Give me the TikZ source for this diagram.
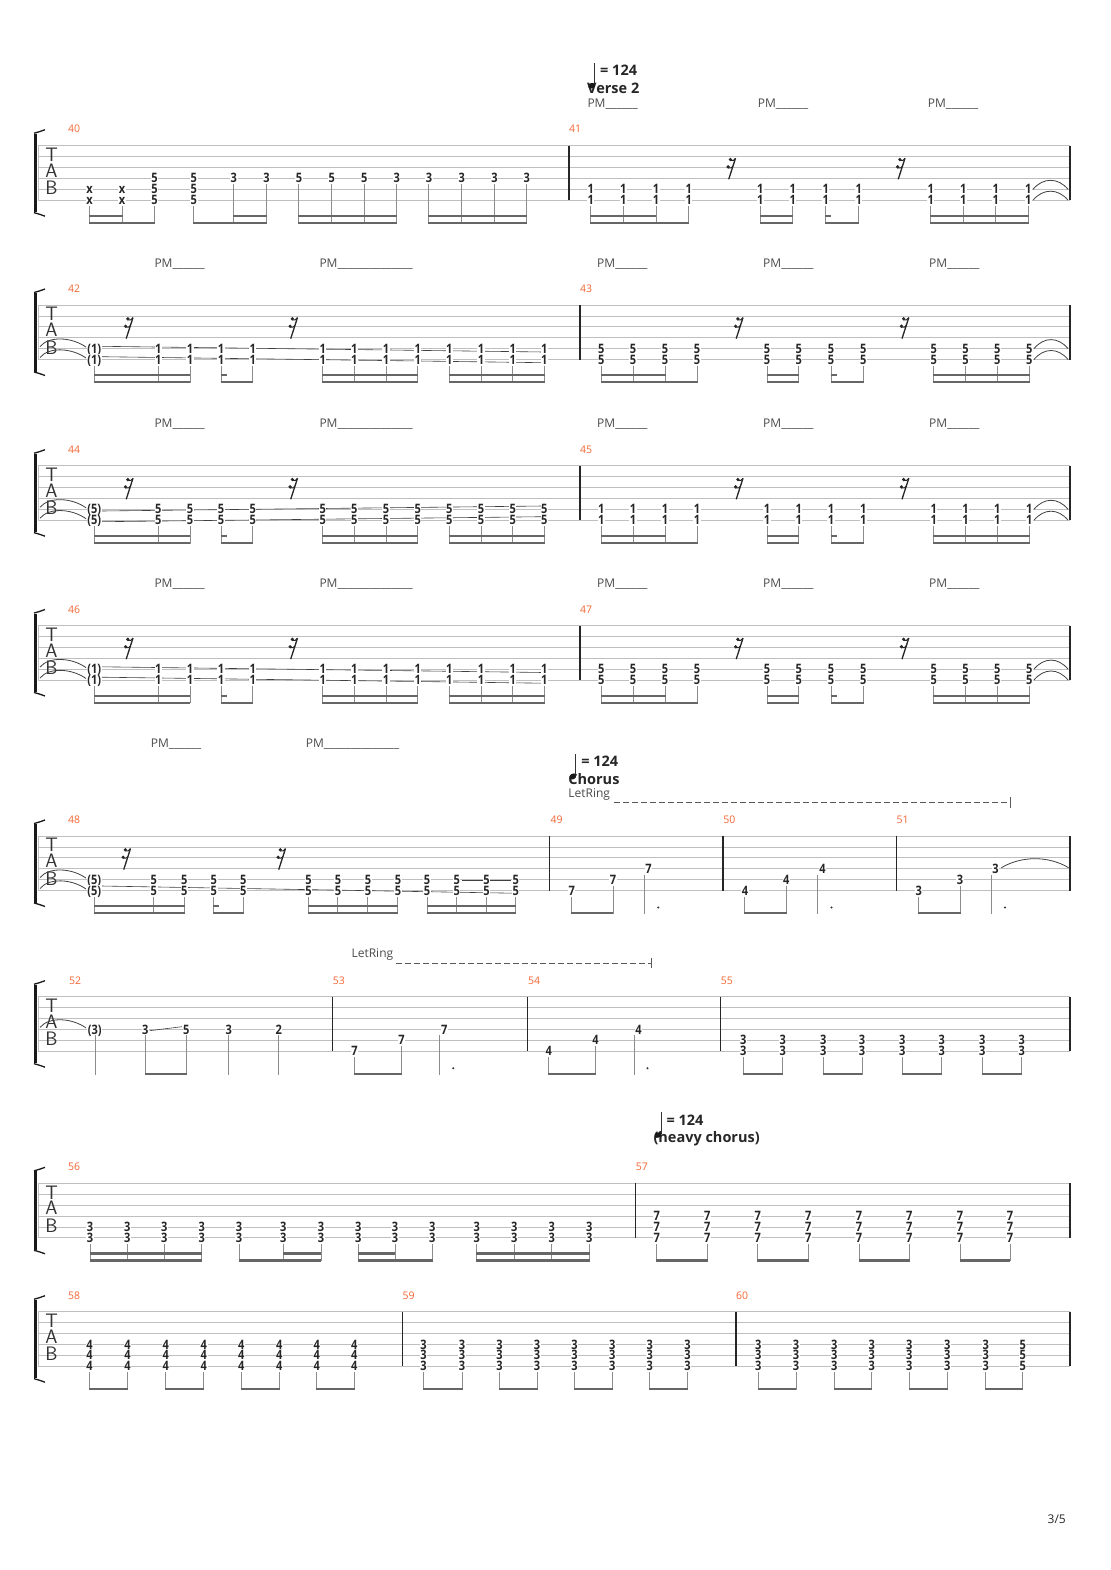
\documentclass[tikz,border=0pt]{standalone}
\usepackage{fontspec}
\setmainfont{Open Sans}
\newfontfamily\fretfont[FakeStretch=0.85]{Open Sans}
\definecolor{mnumc}{RGB}{244,102,52}

\tikzset{
  strline/.style={draw=black!25, line width=0.8pt},
  barln/.style={draw=black!85, line width=1.1pt},
  brk/.style={draw=black!90, line width=1.3pt},
  stemln/.style={draw=black!45, line width=0.9pt},
  beamln/.style={draw=black!60, line width=2.4pt},
  sliden/.style={draw=black!75, line width=0.6pt},
  tiearc/.style={draw=black!75, line width=0.8pt},
  fret/.style={fill=white, inner sep=0.5pt, text height=9.2pt, text depth=0pt,
    font=\fretfont\bfseries\fontsize{13}{13}\selectfont, text=black!85},
  mnum/.style={anchor=base west, inner sep=0pt, font=\fontsize{10.5}{11}\selectfont, text=mnumc},
  pmtext/.style={anchor=base west, inner sep=0pt, font=\fontsize{12}{13}\selectfont, text=black!70},
  tmptext/.style={anchor=base west, inner sep=0pt, font=\bfseries\fontsize{14.5}{15}\selectfont, text=black!85},
  tabltr/.style={inner sep=0pt, text height=12pt, text depth=0pt, font=\sffamily\fontsize{19.5}{20}\selectfont, text=black!80}
}

% one tab staff, #1 = inner barlines
\newcommand\tabstaff[1]{%
  \foreach \s in {0,...,5} \draw[strline] (38,{\s*10.9}) -- (1070,{\s*10.9});
  \draw[strline] (38,0) -- (38,54.5);
  \draw[barln] (1070,0) -- (1070,54.5);
  \foreach \b in {#1} \draw[barln] (\b,0) -- (\b,54.5);
  \draw[brk, line width=2.6pt] (35.3,-12) -- (35.3,66.5);
  \draw[brk] (34,-12.5) .. controls (38,-13.5) and (41,-14.5) .. (45,-16);
  \draw[brk] (34,67) .. controls (38,68) and (41,69) .. (45,70.5);
  \node[tabltr] (tT) at (51.5,9.8) {T};
  \node[tabltr] (tA) at (51.5,25.5) {A};
  \node[tabltr] (tB) at (51.5,43) {B};}
\newcommand\frets[3]{\foreach \x [count=\i] in {#1} \foreach \s in {#2}
  \node[fret] (f\i\s) at (\x,{(\s-1)*10.9}) {#3};}
\newcommand\stems[2]{\foreach \x in {#1} \draw[stemln] (\x,{(#2-1)*10.9+6}) -- (\x,77.8);}
\newcommand\bmA[2]{\draw[beamln] ({#1-0.45},77.2) -- ({#2+0.45},77.2);}
\newcommand\bmB[2]{\draw[beamln] ({#1-0.45},70.2) -- ({#2+0.45},70.2);}
\newcommand\stub[1]{\draw[beamln] ({#1-0.45},70.2) -- ({#1+5.5},70.2);}
\newcommand\pairs[1]{\foreach \a/\b in {#1} {\bmA{\a}{\b}}}
\newcommand\qdot[1]{\fill[black!80] (#1,71.5) circle (1.1);}
\newcommand\srest[1]{\begin{scope}[shift={(#1,0)}]
  \draw[black!85, line width=1.3pt] (5.5,12.6) -- (-1.3,33.6);
  \fill[black!85] (0.3,13.8) circle (1.8) (-1.9,21.2) circle (1.8);
  \draw[black!85, line width=1pt] (0.3,14.8) .. controls (2.5,15.6) and (4.5,14.6) .. (5.5,12.6);
  \draw[black!85, line width=1pt] (-1.9,22.2) .. controls (0.5,23) and (2,22) .. (3,20.3);
  \end{scope}}
\newcommand\tieL[1]{\draw[tiearc] (40,{(#1-1)*10.9-2}) .. controls +(9,-11) and +(-14,-10) .. (86,{(#1-1)*10.9-1.5});}
\newcommand\tieR[2]{\draw[tiearc] (#1,{(#2-1)*10.9}) .. controls +(10,-12) and +(-10,-12) .. (1068,{(#2-1)*10.9});}
% a chorus bar: notes on strings 6, 5, 4 and the dotted quarter
\newcommand\arp[5]{\frets{#1}{6}{#5} \frets{#2}{5}{#5} \frets{#3}{4}{#5}
  \stems{#1}{6} \stems{#2}{5} \draw[stemln] (#4,38.7) -- (#4,77.8);
  \bmA{#1}{#2} \qdot{{#4+13.5}}}
\newcommand\tempo[4]{%
  \node[tmptext] (tl) at (#4,{#2+7.6}) {#3};
  \node[tmptext] (tq) at ({#1+5.3},{#2-10}) {= 124};
  \draw[black!80, line width=0.8pt] (#1,{#2-1.5}) -- (#1,{#2-23});
  \fill[black!90, rotate around={25:({#1-3},#2)}] ({#1-3},#2) ellipse (3.6 and 2.7);}
\newcommand\pmrow[1]{%
  \node[pmtext] (pa) at (154.3,#1) {PM\_\_\_\_\_\_};
  \node[pmtext] (pb) at (319.3,#1) {PM\_\_\_\_\_\_\_\_\_\_\_\_\_\_};
  \node[pmtext] (pc) at (597,#1) {PM\_\_\_\_\_\_};
  \node[pmtext] (pd) at (763,#1) {PM\_\_\_\_\_\_};
  \node[pmtext] (pe) at (929,#1) {PM\_\_\_\_\_\_};}
% bars 42, 44, 46, 48-like: tied chord then sixteenths
\newcommand\measA[2]{%
  \tieL{5} \tieL{6}
  \frets{94.3}{5,6}{(#2)}
  \frets{158.3,190,221,252.7,322.7,354.3,386,417.7,449.3,481,512.7,544.3}{5,6}{#1}
  \stems{94.3,158.3,190,221,252.7,322.7,354.3,386,417.7,449.3,481,512.7,544.3}{6}
  \bmA{94.3}{190} \bmB{94.3}{190}
  \bmA{221}{252.7} \stub{221}
  \bmA{322.7}{417.7} \bmB{322.7}{417.7}
  \bmA{449.3}{544.3} \bmB{449.3}{544.3}
  \srest{127.5} \srest{292}}
% bars 43, 45, 47
\newcommand\measB[1]{%
  \frets{601.2,633.1,665.1,697.1,767.1,798.8,831.1,863.3,933.8,965.6,997.3,1029.2}{5,6}{#1}
  \stems{601.2,633.1,665.1,697.1,767.1,798.8,831.1,863.3,933.8,965.6,997.3,1029.2}{6}
  \bmA{601.2}{697.1} \bmB{601.2}{665.1}
  \bmA{767.1}{798.8} \bmB{767.1}{798.8}
  \bmA{831.1}{863.3} \stub{831.1}
  \bmA{933.8}{1029.2} \bmB{933.8}{1029.2}
  \srest{737.5} \srest{903.3}
  \tieR{1034}{5} \tieR{1034}{6}}

\begin{document}
\begin{tikzpicture}[x=1pt,y=-1pt]
\useasboundingbox (0,0) rectangle (1110,1570);
\fill[white] (0,0) rectangle (1110,1570);

% system 1: bars 40-41
\begin{scope}[shift={(0,145.7)}]
\tabstaff{569}
\node[mnum] (m40) at (68,-12.8) {40};
\node[mnum] (m41) at (569,-12.8) {41};
\tempo{594.7}{-60}{Verse 2}{587}
\node[pmtext] (p1) at (587.3,-38.4) {PM\_\_\_\_\_\_};
\node[pmtext] (p2) at (757.7,-38.4) {PM\_\_\_\_\_\_};
\node[pmtext] (p3) at (927.7,-38.4) {PM\_\_\_\_\_\_};
\frets{89.6,122.1}{5,6}{x}
\frets{154.6,193.9}{4,5,6}{5}
\frets{233.9,266.4}{4}{3}
\frets{298.9,331.8,364.3}{4}{5}
\frets{396.8,428.9,461.8,494.6,526.8}{4}{3}
\stems{89.6,122.1,154.6,193.9}{6}
\stems{233.9,266.4,298.9,331.8,364.3,396.8,428.9,461.8,494.6,526.8}{4}
\bmA{89.6}{154.6} \bmB{89.6}{122.1}
\bmA{193.9}{266.4} \bmB{233.9}{266.4}
\bmA{298.9}{396.8} \bmB{298.9}{396.8}
\bmA{428.9}{526.8} \bmB{428.9}{526.8}
\frets{590.7,623.3,656,688.7,760.3,792.7,825.7,858.7,930.7,963.3,995.7,1028.3}{5,6}{1}
\stems{590.7,623.3,656,688.7,760.3,792.7,825.7,858.7,930.7,963.3,995.7,1028.3}{6}
\bmA{590.7}{688.7} \bmB{590.7}{656}
\bmA{760.3}{792.7} \bmB{760.3}{792.7}
\bmA{825.7}{858.7} \stub{825.7}
\bmA{930.7}{1028.3} \bmB{930.7}{1028.3}
\srest{730} \srest{899.5}
\tieR{1033}{5} \tieR{1033}{6}
\end{scope}

% system 2: bars 42-43
\begin{scope}[shift={(0,305)}]
\tabstaff{580}
\node[mnum] (m42) at (68,-12.5) {42};
\node[mnum] (m43) at (580,-12.5) {43};
\pmrow{-38}
\draw[sliden] (101.4,41.3) -- (543.6,47);
\draw[sliden] (101.4,51.7) -- (543.6,57.7);
\measA{1}{1}
\measB{5}
\end{scope}

% system 3: bars 44-45
\begin{scope}[shift={(0,465.7)}]
\tabstaff{580}
\node[mnum] (m44) at (68,-12.5) {44};
\node[mnum] (m45) at (580,-12.5) {45};
\pmrow{-38}
\draw[sliden] (101.7,45.3) -- (543.3,40.3);
\draw[sliden] (101.7,56) -- (543.3,51);
\measA{5}{5}
\measB{1}
\end{scope}

% system 4: bars 46-47
\begin{scope}[shift={(0,625.5)}]
\tabstaff{580}
\node[mnum] (m46) at (68,-12.5) {46};
\node[mnum] (m47) at (580,-12.5) {47};
\pmrow{-38}
\draw[sliden] (101.4,41.3) -- (543.6,47);
\draw[sliden] (101.4,51.7) -- (543.6,57.7);
\measA{1}{1}
\measB{5}
\end{scope}

% system 5: bars 48-51
\begin{scope}[shift={(0,836)}]
\tabstaff{549.5,723,896.4}
\node[mnum] (m48) at (68,-12.7) {48};
\node[mnum] (m49) at (550.3,-12.7) {49};
\node[mnum] (m50) at (723.2,-12.7) {50};
\node[mnum] (m51) at (896.4,-12.7) {51};
\node[pmtext] (p4) at (150.7,-88.7) {PM\_\_\_\_\_\_};
\node[pmtext] (p5) at (305.7,-88.7) {PM\_\_\_\_\_\_\_\_\_\_\_\_\_\_};
\tempo{575.8}{-59.3}{Chorus}{568.2}
\node[pmtext] (lr1) at (568.2,-38.7) {LetRing};
\coordinate (lr1e) at (1010,-33.7);
\draw[black!65, line width=1.1pt, dash pattern=on 6pt off 3pt] (614,-33.7) -- (lr1e);
\draw[black!65, line width=1pt] ([yshift=5pt]lr1e) -- ([yshift=-6pt]lr1e);
\tieL{5} \tieL{6}
\draw[sliden] (101.4,50) -- (519,57.3);
\draw[sliden] (462,44) -- (511,44);
\frets{94.3}{5,6}{(5)}
\frets{153.9,184.3,213.9,243.2,308.6,337.9,367.9,397.9,427.1,456.8,486.4,515.7}{5,6}{5}
\stems{94.3,153.9,184.3,213.9,243.2,308.6,337.9,367.9,397.9,427.1,456.8,486.4,515.7}{6}
\bmA{94.3}{184.3} \bmB{94.3}{184.3}
\bmA{213.9}{243.2} \stub{213.9}
\bmA{308.6}{397.9} \bmB{308.6}{397.9}
\bmA{427.1}{515.7} \bmB{427.1}{515.7}
\srest{125} \srest{280}
\arp{571.7}{613}{648.5}{644.7}{7}
\arp{744.9}{786.2}{822.4}{817.9}{4}
\arp{918.8}{960.1}{995.6}{991.4}{3}
\draw[tiearc] (1001.4,31.7) .. controls +(20,-12) and +(-20,-12) .. (1068.6,31.7);
\end{scope}

% system 6: bars 52-55
\begin{scope}[shift={(0,996.7)}]
\tabstaff{332.7,527.8,720.6}
\node[mnum] (m52) at (68.8,-12.7) {52};
\node[mnum] (m53) at (332.7,-12.7) {53};
\node[mnum] (m54) at (528,-12.7) {54};
\node[mnum] (m55) at (720.6,-12.7) {55};
\node[pmtext] (lr2) at (351.4,-39.4) {LetRing};
\coordinate (lr2e) at (651.9,-33.4);
\draw[black!65, line width=1.1pt, dash pattern=on 6pt off 3pt] (396,-33.4) -- (lr2e);
\draw[black!65, line width=1pt] ([yshift=5pt]lr2e) -- ([yshift=-5pt]lr2e);
\tieL{4}
\draw[sliden] (149.6,34) -- (181.8,30);
\frets{94.7}{4}{(3)}
\frets{145.2,228.7}{4}{3}
\frets{186.3}{4}{5}
\frets{278.7}{4}{2}
\stems{95,145.2,186.3,228.7,278.7}{4}
\bmA{145.2}{186.3}
\arp{354.6}{401.4}{444.3}{439.8}{7}
\arp{548.8}{595.6}{638.5}{634}{4}
\frets{743.3,782.7,823.3,862,902.3,941.7,982.3,1021.7}{5,6}{3}
\stems{743.3,782.7,823.3,862,902.3,941.7,982.3,1021.7}{6}
\pairs{743.3/782.7,823.3/862,902.3/941.7,982.3/1021.7}
\end{scope}

% system 7: bars 56-57
\begin{scope}[shift={(0,1183.3)}]
\tabstaff{635.7}
\node[mnum] (m56) at (68,-12.7) {56};
\node[mnum] (m57) at (635.7,-12.7) {57};
\tempo{661}{-48.3}{(heavy chorus)}{653.3}
\frets{90,127.3,164.3,201.7,239,283.3,321,358.3,395,432.3,476.7,514.3,551.7,589.3}{5,6}{3}
\stems{90,127.3,164.3,201.7,239,283.3,321,358.3,395,432.3,476.7,514.3,551.7,589.3}{6}
\bmA{90}{201.7} \bmB{90}{201.7}
\bmA{239}{321} \bmB{283.3}{321}
\bmA{358.3}{432.3} \bmB{358.3}{395}
\bmA{476.7}{589.3} \bmB{476.7}{589.3}
\frets{656.7,707.3,757.7,808.3,859,909.3,960,1010}{4,5,6}{7}
\stems{656.7,707.3,757.7,808.3,859,909.3,960,1010}{6}
\pairs{656.7/707.3,757.7/808.3,859/909.3,960/1010}
\end{scope}

% system 8: bars 58-60
\begin{scope}[shift={(0,1311.7)}]
\tabstaff{402.5,736}
\node[mnum] (m58) at (68,-12.7) {58};
\node[mnum] (m59) at (402.5,-12.7) {59};
\node[mnum] (m60) at (736,-12.7) {60};
\frets{89.6,127.5,165.7,203.9,241.4,279.3,316.8,354.3}{4,5,6}{4}
\stems{89.6,127.5,165.7,203.9,241.4,279.3,316.8,354.3}{6}
\pairs{89.6/127.5,165.7/203.9,241.4/279.3,316.8/354.3}
\frets{423.6,462.1,499.6,537.1,574.6,612.2,649.8,687.4}{4,5,6}{3}
\stems{423.6,462.1,499.6,537.1,574.6,612.2,649.8,687.4}{6}
\pairs{423.6/462.1,499.6/537.1,574.6/612.2,649.8/687.4}
\frets{758.3,796,834.3,871.7,909.3,947.3,985.7}{4,5,6}{3}
\frets{1022.7}{4,5,6}{5}
\stems{758.3,796,834.3,871.7,909.3,947.3,985.7,1022.7}{6}
\pairs{758.3/796,834.3/871.7,909.3/947.3,985.7/1022.7}
\end{scope}

\node[anchor=base east, inner sep=0pt, font=\fontsize{12}{12}\selectfont, text=black!85] (pg) at (1066,1523) {3/5};
\end{tikzpicture}
\end{document}
